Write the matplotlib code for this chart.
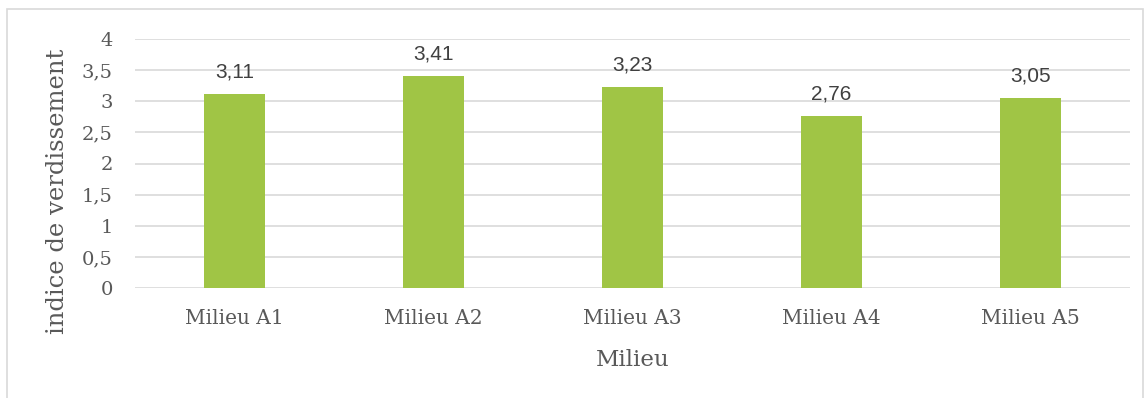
import matplotlib.pyplot as plt
from matplotlib.patches import Rectangle

categories = ['Milieu A1', 'Milieu A2', 'Milieu A3', 'Milieu A4', 'Milieu A5']
values = [3.11, 3.41, 3.23, 2.76, 3.05]
yticks = [0, 0.5, 1, 1.5, 2, 2.5, 3, 3.5, 4]

TXT = '#595959'
GRID = '#d9d9d9'
BAR = '#a0c545'
SERIF = 'DejaVu Serif'

fig = plt.figure(figsize=(11.45, 3.98), dpi=100)
fig.patches.append(Rectangle((7 / 1145, -0.1), 1136 / 1145, 1.1 - 9 / 398,
                             transform=fig.transFigure, fill=False,
                             ec=GRID, lw=1.2))
ax = fig.add_axes([135 / 1145, 1 - 288 / 398, 995 / 1145, 249 / 398])

x = range(len(categories))
ax.bar(x, values, width=0.31, color=BAR, zorder=3)
for xi, v in zip(x, values):
    ax.text(xi, v + 0.2, f'{v:.2f}'.replace('.', ','), ha='center',
            va='bottom', fontsize=15, color='#404040', family='Liberation Sans')

ax.set_xlim(-0.5, len(categories) - 0.5)
ax.set_ylim(0, 4)
ax.set_yticks(yticks)
ax.set_yticklabels([f'{t:g}'.replace('.', ',') for t in yticks],
                   fontsize=14, color=TXT, family=SERIF)
ax.set_xticks(list(x))
ax.set_xticklabels(categories, fontsize=14.5, color=TXT, family=SERIF)
ax.tick_params(axis='y', length=0, pad=16)
ax.tick_params(axis='x', length=0, pad=15)
ax.grid(axis='y', color=GRID, lw=1.2, zorder=0)
for s in ax.spines.values():
    s.set_visible(False)
ax.set_xlabel('Milieu', fontsize=16.5, color=TXT, family=SERIF, labelpad=15)
ax.set_ylabel('indice de verdissement', fontsize=17.5, color=TXT, family=SERIF)
ax.yaxis.set_label_coords(-0.066, 0.39)

fig.savefig('out.png', dpi=100)
